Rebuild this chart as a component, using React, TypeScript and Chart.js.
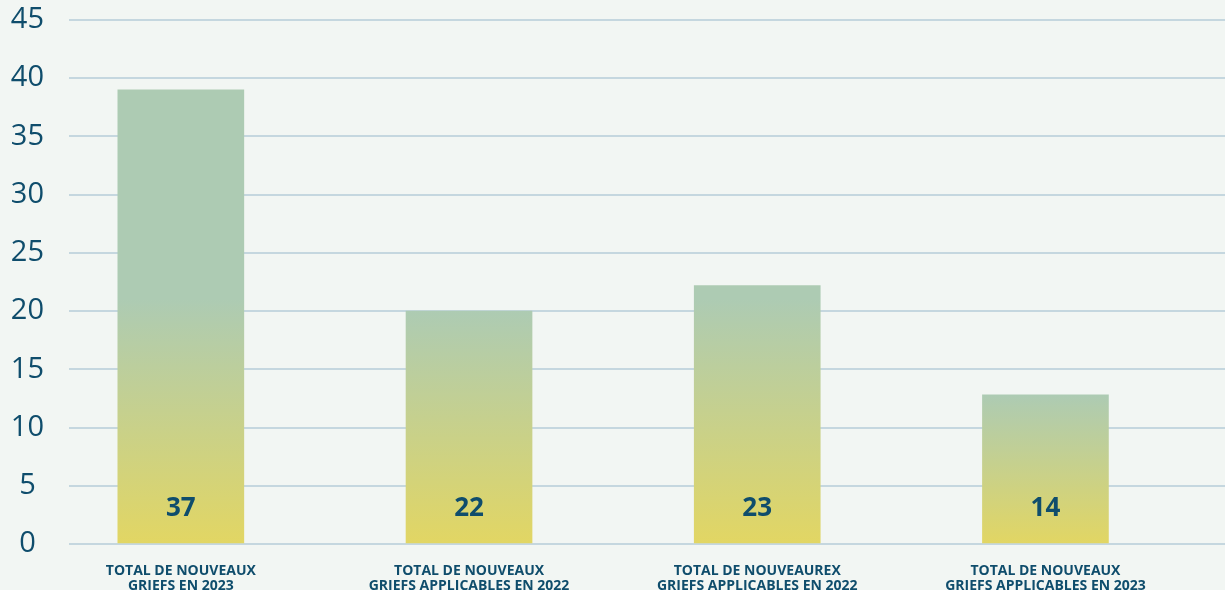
import React, { useEffect, useRef } from 'react';
import { Chart, registerables } from 'chart.js';

Chart.register(...registerables);

// ---- Data ----
const categories: string[][] = [
  ['TOTAL DE NOUVEAUX', 'GRIEFS EN 2023'],
  ['TOTAL DE NOUVEAUX', 'GRIEFS APPLICABLES EN 2022'],
  ['TOTAL DE NOUVEAUREX', 'GRIEFS APPLICABLES EN 2022'],
  ['TOTAL DE NOUVEAUX', 'GRIEFS APPLICABLES EN 2023'],
];
const barValues: number[] = [39, 20, 22.2, 12.8];
const barLabels: string[] = ['37', '22', '23', '14'];
const yMin = 0;
const yMax = 45;
const yStep = 5;

// ---- Style ----
const BG = '#f2f6f3';
const TEXT = '#0f4d6c';
const GRID = 'rgba(160,190,205,0.55)';
const GREEN = '#adcbb3';
const YELLOW = '#e2d663';
const GRAD_HOLD = 21; // green held above this level
const FONT = "'Open Sans', 'DejaVu Sans', sans-serif";

const X_MIN = -0.388;
const X_MAX = 3.623;

export default function App() {
  const canvasRef = useRef<HTMLCanvasElement | null>(null);

  useEffect(() => {
    document.body.style.margin = '0';
    document.body.style.background = BG;
    const canvas = canvasRef.current;
    if (!canvas) return;

    const labelPlugin = {
      id: 'barLabels',
      afterDatasetsDraw(chart: any) {
        const ctx = chart.ctx;
        const meta = chart.getDatasetMeta(0);
        const base = chart.scales.y.getPixelForValue(0);
        ctx.save();
        ctx.fillStyle = TEXT;
        ctx.font = `700 26px ${FONT}`;
        ctx.textAlign = 'center';
        ctx.textBaseline = 'middle';
        meta.data.forEach((bar: any, i: number) => {
          ctx.fillText(barLabels[i], bar.x, base - 35);
        });
        ctx.restore();
      },
    };

    const chart = new Chart(canvas, {
      type: 'bar',
      data: {
        datasets: [
          {
            data: barValues.map((v, i) => ({ x: i, y: v })),
            barThickness: 126,
            borderWidth: 0,
            backgroundColor: (c: any) => {
              const ch = c.chart;
              const { chartArea, scales } = ch;
              if (!chartArea || !c.parsed) return GREEN;
              const top = scales.y.getPixelForValue(c.parsed.y);
              const base = scales.y.getPixelForValue(0);
              const start = Math.max(top, scales.y.getPixelForValue(GRAD_HOLD));
              const g = ch.ctx.createLinearGradient(0, start, 0, base);
              g.addColorStop(0, GREEN);
              g.addColorStop(1, YELLOW);
              return g;
            },
          },
        ],
      },
      options: {
        animation: false,
        responsive: true,
        maintainAspectRatio: false,
        layout: { padding: { top: 20, left: 0, right: 0, bottom: 0 } },
        plugins: {
          legend: { display: false },
          tooltip: { enabled: false },
        },
        scales: {
          x: {
            type: 'linear',
            offset: false,
            min: X_MIN,
            max: X_MAX,
            grid: { display: false, drawTicks: false, offset: false },
            border: { display: false },
            afterBuildTicks: (axis: any) => {
              axis.ticks = categories.map((_, i) => ({ value: i }));
            },
            afterFit: (scale: any) => {
              scale.height = 46;
              scale.paddingLeft = 0;
              scale.paddingRight = 0;
            },
            ticks: {
              autoSkip: false,
              maxRotation: 0,
              padding: 19,
              color: TEXT,
              font: { family: FONT, size: 14, weight: 'bold', lineHeight: 1.08 },
              callback: (v: any) => {
                const i = Math.round(Number(v));
                return categories[i] ?? '';
              },
            },
          },
          y: {
            min: yMin,
            max: yMax,
            grid: { color: GRID, lineWidth: 2, drawTicks: false },
            border: { display: false },
            afterFit: (scale: any) => {
              scale.width = 69;
              scale.paddingTop = 0;
              scale.paddingBottom = 0;
            },
            ticks: {
              stepSize: yStep,
              crossAlign: 'center',
              padding: 25,
              color: TEXT,
              font: { family: FONT, size: 29, weight: 'normal', lineHeight: 1.0 },
            },
          },
        },
      },
      plugins: [labelPlugin],
    } as any);

    return () => chart.destroy();
  }, []);

  return (
    <div style={{ width: 1225, height: 590, background: BG, position: 'relative' }}>
      <canvas ref={canvasRef} />
    </div>
  );
}
